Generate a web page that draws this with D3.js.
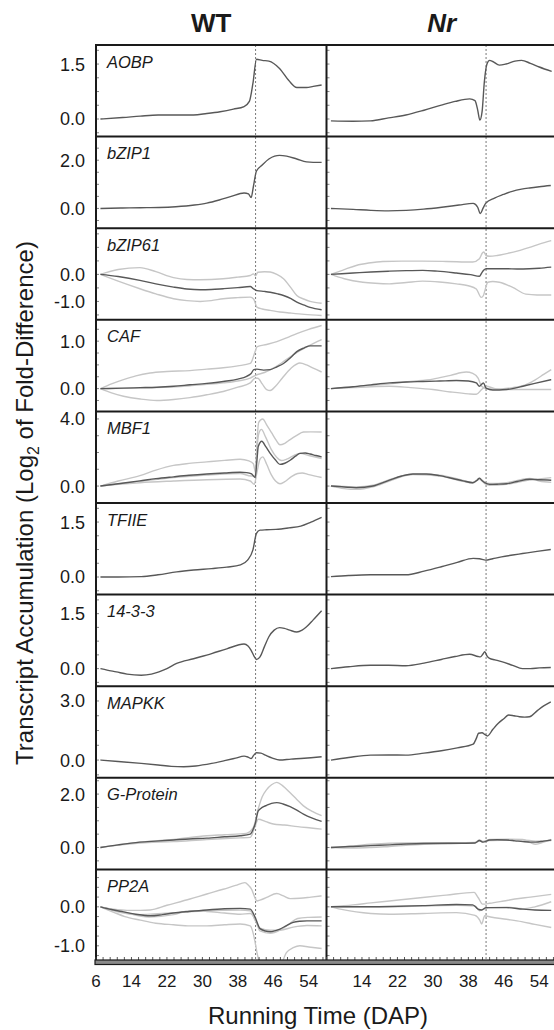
<!DOCTYPE html>
<html>
<meta charset="utf-8">
<head>
    <script src="https://d3js.org/d3.v7.min.js"></script>
    <style>
        body { margin: 0; background: #fff; }
        text { font-family: "Liberation Sans", Arial, sans-serif; fill: #1a1a1a; }
    </style>
</head>
<body>
    <div id="my_dataviz"></div>

<script>
    // panels: one row per gene, WT on the left, Nr on the right
    const genes = ["AOBP", "bZIP1", "bZIP61", "CAF", "MBF1", "TFIIE", "14-3-3", "MAPKK", "G-Protein", "PP2A"];
    const columns = ["WT", "Nr"];
    const xDomain = [6, 58];
    const xTicks = [6, 14, 22, 30, 38, 46, 54];
    const treatDay = 42;
    const yDomains = [[-0.48, 2.02], [-0.82, 2.98], [-1.68, 1.71], [-0.48, 1.45], [-1.01, 4.45],
                      [-0.48, 2.02], [-0.48, 2.02], [-0.9, 3.75], [-0.82, 2.61], [-1.39, 0.96]];
    const yTickValues = [[0, 1.5], [0, 2], [-1, 0], [0, 1], [0, 4], [0, 1.5], [0, 1.5], [0, 3], [0, 2], [-1, 0]];
    const yMinorStep = [0.375, 0.5, 0.5, 0.25, 1, 0.375, 0.375, 0.75, 0.5, 0.25];

    // each panel: [dark series, light series...], points are [DAP, log2 fold-difference]
    const aobpWT = [
        [[7,0],[12,0.04],[16,0.08],[20,0.11],[24,0.11],[28,0.11],[31,0.15],[34,0.2],[37,0.27],[39.4,0.34],[40.6,0.48],[41.4,0.97],[42.2,1.63],[43.5,1.6],[45,1.58],[47.4,1.38],[49.5,1.05],[51.3,0.86],[53.5,0.86],[55,0.89],[56.9,0.93]]
    ];
    const aobpNr = [
        [[7,-0.05],[12,-0.06],[15.9,-0.05],[20,0.03],[23.9,0.11],[28,0.24],[31.9,0.38],[35,0.48],[38.3,0.55],[39.5,0.5],[40.1,0.25],[40.6,-0.03],[41.1,0.2],[41.6,1.0],[42.2,1.5],[42.8,1.6],[43.5,1.57],[45,1.47],[46.5,1.5],[48.5,1.58],[50,1.6],[52,1.52],[54,1.42],[56.8,1.3]]
    ];
    const bzip1WT = [
        [[7,0],[12,0.02],[16,0.03],[20.2,0.04],[24,0.07],[28.2,0.14],[31,0.22],[33.8,0.35],[36.5,0.5],[39.4,0.64],[40.4,0.6],[41,0.45],[41.5,0.9],[42.2,1.55],[43.5,1.8],[45,2.05],[46.3,2.17],[47.4,2.2],[49,2.17],[51.3,2.05],[53.5,1.93],[55,1.91],[56.9,1.91]]
    ];
    const bzip1Nr = [
        [[7,0],[12,-0.04],[16,-0.08],[19.9,-0.1],[24,-0.08],[27.9,-0.03],[32,0.05],[35.9,0.14],[39.1,0.21],[40.1,0.05],[40.7,-0.21],[41.3,0],[41.9,0.21],[43.9,0.43],[45.9,0.58],[47.9,0.71],[50,0.8],[51.8,0.85],[54,0.9],[56.6,0.95]]
    ];
    const bzip61WT = [
        [[7,0],[11,-0.08],[15.9,-0.22],[19.5,-0.35],[23.5,-0.47],[26.5,-0.54],[29.5,-0.57],[32,-0.56],[34.7,-0.53],[38,-0.49],[40.8,-0.45],[41.5,-0.53],[42.3,-0.6],[44,-0.63],[45.3,-0.66],[47,-0.72],[48.3,-0.78],[50,-0.9],[51.3,-1.03],[53,-1.14],[54.3,-1.22],[56.9,-1.31]],
        [[7,0],[11,0.18],[15.9,0.25],[19.5,0.1],[23.5,-0.12],[26.5,-0.19],[29.5,-0.2],[34.7,-0.16],[38,-0.1],[40.8,-0.04],[41.5,0.02],[42,-0.05],[42.5,0.08],[44,0.1],[45.3,0.09],[46.8,0],[48.3,-0.16],[50,-0.5],[51.3,-0.78],[53,-0.92],[54.3,-1],[56.9,-1.07]],
        [[7,0],[11,-0.25],[15.9,-0.53],[19.5,-0.72],[23.5,-0.9],[26.5,-0.97],[29.5,-1],[32,-0.97],[34.7,-0.9],[38,-0.86],[40.8,-0.84],[41.6,-0.92],[42.3,-1.21],[43.5,-1.28],[45.3,-1.33],[47.5,-1.39],[49.8,-1.43],[53,-1.48],[56.9,-1.52]]
    ];
    const bzip61Nr = [
        [[7,0],[12,0.05],[16,0.09],[20.2,0.12],[24,0.14],[27.7,0.15],[31,0.12],[35.3,0.05],[38.5,-0.01],[40.5,-0.07],[41,0.05],[41.5,0.16],[42,0.21],[44,0.21],[46.6,0.21],[49,0.2],[51.8,0.21],[54,0.23],[56.7,0.27]],
        [[7,0],[10,0.18],[12.7,0.33],[15.5,0.42],[18.7,0.48],[23,0.49],[27.7,0.49],[33,0.48],[39,0.46],[40.5,0.58],[41.2,0.8],[41.5,0.83],[42,0.7],[42.8,0.67],[44.5,0.7],[46.6,0.77],[49,0.86],[51.8,1],[54,1.12],[56.7,1.25]],
        [[7,0],[10,-0.16],[14.2,-0.29],[17,-0.33],[20.2,-0.35],[24,-0.3],[27.7,-0.25],[31.5,-0.28],[35.3,-0.35],[38,-0.42],[39.8,-0.54],[40.9,-0.85],[41.4,-0.78],[41.7,-0.62],[42.4,-0.29],[43.5,-0.26],[45,-0.29],[48,-0.48],[51,-0.73],[53.5,-0.76],[56.7,-0.76]]
    ];
    const cafWT = [
        [[7,0],[12,0.01],[16,0.02],[19.7,0.03],[23.5,0.05],[27.2,0.08],[31,0.11],[34.7,0.15],[38,0.2],[40,0.26],[41,0.32],[41.6,0.4],[42.3,0.41],[43.8,0.39],[45.3,0.4],[46.8,0.46],[48.3,0.53],[50,0.66],[51.3,0.78],[53,0.86],[54.3,0.9],[56.9,0.9]],
        [[7,0],[9.5,0.1],[12.2,0.19],[15,0.27],[18.2,0.33],[22,0.36],[27.2,0.38],[31,0.41],[34.7,0.44],[38,0.48],[40.8,0.53],[41.9,0.78],[42.3,0.88],[44.5,0.93],[46.8,0.99],[49,1.07],[51.3,1.16],[54,1.25],[56.9,1.33]],
        [[7,0],[9.5,-0.09],[12.2,-0.16],[16,-0.22],[19.7,-0.25],[23.5,-0.23],[27.2,-0.19],[31,-0.13],[34.7,-0.06],[38,0.03],[40.8,0.12],[41.9,0.22],[42.5,0.22],[43.5,0.1],[44.5,-0.02],[45.3,-0.04],[46.5,0.05],[48,0.22],[50,0.43],[52,0.54],[53.5,0.5],[55,0.43],[56.9,0.35]],
        [[7,0],[19.7,0.02],[27.2,0.06],[34.7,0.12],[38,0.16],[40.8,0.22],[42,0.28],[44,0.34],[46,0.43],[48,0.55],[50,0.68],[52,0.8],[54,0.9],[56.9,1.03]]
    ];
    const cafNr = [
        [[7,0],[12,0.04],[16,0.08],[20.2,0.12],[24,0.14],[27.7,0.15],[31.5,0.16],[35.3,0.17],[38,0.16],[39.8,0.12],[40.5,0.05],[41.1,0.1],[41.4,0.12],[42,0.01],[43.5,-0.03],[45,-0.03],[46.6,-0.02],[48.5,0.01],[50.3,0.05],[53,0.11],[56.7,0.19]],
        [[7,0],[12,0.04],[16,0.07],[20.2,0.1],[25,0.15],[30,0.2],[34,0.28],[37.5,0.35],[39,0.32],[40.2,0.22],[41,0.05],[42,0],[44,-0.01],[47,0.01],[50.3,0.06],[53,0.18],[55,0.3],[56.7,0.4]],
        [[7,0],[12,0.02],[16,0.04],[20.2,0.05],[25,0.02],[30,-0.02],[34,-0.07],[38,-0.11],[39.8,-0.12],[41,-0.02],[42,0.05],[44,0],[46.6,-0.02],[50,-0.02],[56.7,-0.02]]
    ];
    const mbf1WT = [
        [[7,0],[11,0.14],[15.9,0.31],[19.5,0.44],[23.5,0.55],[27,0.64],[31,0.72],[35,0.78],[38.5,0.82],[40,0.8],[41.1,0.72],[41.9,0.51],[42.3,1.5],[42.6,2.36],[43.4,2.67],[44.3,2.35],[45.3,1.95],[46.5,1.55],[47.5,1.29],[48.6,1.36],[49.8,1.54],[51,1.78],[52,1.95],[53.2,1.97],[54.3,1.91],[55.6,1.82],[56.9,1.74]],
        [[7,0],[11,0.3],[15.9,0.62],[19.5,0.95],[23.5,1.23],[27,1.35],[31,1.44],[35,1.53],[38.5,1.6],[40.5,1.5],[41.5,1.33],[42,0.8],[42.3,2.5],[42.7,3.8],[43.6,4],[44.6,3.6],[45.6,3.18],[46.6,2.75],[47.5,2.46],[48.6,2.55],[49.8,2.77],[51.2,3],[52.8,3.22],[54.5,3.23],[56.9,3.22]],
        [[7,0],[15.9,0.28],[23.5,0.5],[31,0.66],[38.5,0.75],[41,0.6],[41.9,0.6],[42.3,2.2],[42.8,3.2],[43.3,3.38],[44.3,2.9],[45.5,2.2],[46.8,1.7],[47.8,1.52],[49,1.6],[50.5,1.8],[52,1.95],[54,1.82],[56.9,1.64]],
        [[7,0],[11,0.1],[15.9,0.2],[23.5,0.3],[31,0.38],[38.5,0.42],[40.8,0.3],[41.7,0.1],[42.3,0.8],[43,1.6],[43.6,1.74],[44.5,1.3],[45.5,0.7],[46.5,0.3],[47.5,0.14],[48.5,0.25],[50,0.55],[51.5,0.75],[52.5,0.78],[54,0.68],[56.9,0.51]]
    ];
    const mbf1Nr = [
        [[7,0],[10,-0.06],[12.7,-0.1],[16.5,0],[20.2,0.35],[23,0.6],[25.5,0.72],[28.5,0.72],[31.5,0.62],[34.5,0.45],[36.8,0.31],[39,0.2],[40,0.35],[40.5,0.47],[41,0.35],[41.7,0.2],[42.8,0.1],[44.5,0.11],[46.6,0.14],[49,0.27],[51.8,0.41],[54,0.38],[56.7,0.35]],
        [[7,0],[10,-0.15],[12.7,-0.2],[16.5,-0.05],[20.2,0.3],[25.5,0.68],[31.5,0.6],[36.8,0.28],[39,0.18],[40.5,0.4],[41.7,0.15],[42.8,0.05],[46.6,0.1],[51.8,0.36],[54,0.42],[56.7,0.5]],
        [[7,0],[10,-0.02],[12.7,-0.05],[16.5,0.05],[20.2,0.38],[25.5,0.7],[31.5,0.65],[36.8,0.34],[39,0.22],[40.5,0.45],[41.7,0.22],[42.8,0.15],[46.6,0.2],[51.8,0.45],[54,0.3],[56.7,0.22]]
    ];
    const tfiieWT = [
        [[7,0],[11,0],[16.2,0.01],[20,0.06],[24.2,0.14],[28,0.19],[32.1,0.23],[35.5,0.27],[38.6,0.33],[40.2,0.46],[41.4,0.74],[42.2,1.19],[43,1.28],[44.5,1.29],[46.6,1.3],[49.5,1.34],[52.2,1.39],[54.5,1.5],[56.9,1.63]]
    ];
    const tfiieNr = [
        [[7,0.01],[11,0.04],[15.9,0.06],[20,0.06],[23.9,0.06],[28,0.16],[31.9,0.28],[35.5,0.4],[39.1,0.51],[40.5,0.5],[41.9,0.46],[43.5,0.5],[45.5,0.55],[48,0.6],[50.2,0.64],[53.5,0.7],[56.6,0.75]]
    ];
    const p1433WT = [
        [[7,0],[8.5,-0.04],[10.6,-0.09],[13,-0.15],[16.2,-0.18],[18.5,-0.15],[20.2,-0.09],[22,0],[24.2,0.14],[28,0.27],[32.1,0.41],[35.5,0.54],[39.4,0.67],[40.3,0.62],[41,0.5],[41.7,0.33],[42.2,0.25],[43,0.32],[44,0.6],[45,0.87],[46.2,1.05],[47.4,1.12],[48.5,1.1],[49.7,1.05],[51.3,1],[52.5,1.05],[53.5,1.14],[55,1.33],[56.9,1.58]]
    ];
    const p1433Nr = [
        [[7,0],[11,0.05],[15.9,0.09],[20,0.09],[23.9,0.08],[28,0.15],[31.9,0.25],[35,0.33],[38.3,0.39],[40.2,0.33],[40.7,0.32],[41.3,0.4],[41.7,0.46],[42.2,0.35],[42.8,0.28],[44,0.24],[45.5,0.19],[48,0.09],[50.2,0],[52,0],[54,0.02],[56.6,0.03]]
    ];
    const mapkkWT = [
        [[7,0],[11,-0.07],[16.2,-0.17],[20,-0.25],[23,-0.32],[25.8,-0.34],[28.5,-0.3],[32.1,-0.17],[35,-0.03],[37.5,0.1],[39.4,0.2],[40.3,0.15],[41,0.08],[41.6,0.25],[42.2,0.37],[43.2,0.35],[44.2,0.25],[45.8,0.1],[47.4,0],[50,0.05],[52.2,0.08],[54.5,0.12],[56.9,0.17]]
    ];
    const mapkkNr = [
        [[7,0],[11,0.13],[15.9,0.25],[20,0.26],[23.9,0.25],[28,0.35],[31.9,0.47],[35.5,0.62],[39.1,0.81],[39.8,1.1],[40.3,1.36],[41.1,1.39],[41.7,1.3],[42.3,1.22],[43.5,1.55],[44.7,1.86],[46,2.1],[47.1,2.29],[48.3,2.25],[49.5,2.2],[50.7,2.18],[51.8,2.2],[53.5,2.5],[55,2.75],[56.6,2.96]]
    ];
    const gprotWT = [
        [[7,0],[11,0.1],[15.9,0.2],[19.5,0.24],[23.5,0.28],[27,0.32],[31,0.35],[35,0.4],[38.5,0.44],[40.8,0.5],[41.5,0.7],[41.9,0.88],[42.6,1.37],[43.5,1.5],[44.5,1.58],[45.6,1.65],[46.8,1.68],[48.2,1.63],[49.8,1.53],[51.3,1.4],[52.8,1.25],[54.8,1.1],[56.9,0.98]],
        [[7,0],[11,0.1],[15.9,0.2],[23.5,0.3],[31,0.44],[35,0.48],[39.9,0.53],[41.5,0.75],[42.6,1.45],[43.5,1.9],[44.5,2.17],[45.6,2.35],[46.8,2.44],[48.2,2.3],[49.8,2.05],[51.3,1.8],[52.8,1.56],[54.8,1.35],[56.9,1.19]],
        [[7,0],[11,0.09],[15.9,0.17],[23.5,0.22],[31,0.3],[38.5,0.36],[40.8,0.38],[41.9,0.8],[42.6,1.06],[44.3,0.97],[46,0.88],[48.5,0.84],[51.5,0.78],[54.5,0.73],[56.9,0.69]]
    ];
    const gprotNr = [
        [[7,0],[12,0.04],[16,0.07],[20.2,0.1],[24,0.13],[28,0.15],[35.3,0.16],[39.5,0.17],[40.5,0.26],[41.3,0.2],[42.8,0.28],[44.5,0.29],[46.6,0.28],[48.5,0.25],[50.3,0.22],[52,0.2],[53.2,0.2],[55,0.24],[56.7,0.28]],
        [[7,0],[12,-0.02],[16,0],[20.2,0.04],[28,0.12],[35.3,0.15],[39.5,0.18],[40.5,0.24],[41.3,0.22],[42.8,0.3],[46.6,0.31],[50.3,0.3],[52,0.18],[53.2,0.12],[55,0.2],[56.7,0.3]],
        [[7,0],[12,0.06],[16,0.12],[20.2,0.16],[28,0.18],[35.3,0.18],[39.5,0.19],[40.5,0.28],[41.3,0.23],[42.8,0.26],[46.6,0.27],[50.3,0.28],[53.2,0.24],[56.7,0.26]]
    ];
    const pp2aWT = [
        [[7,0],[9.5,-0.07],[12.2,-0.13],[15,-0.19],[18.2,-0.23],[21,-0.2],[23.5,-0.16],[27,-0.12],[31,-0.08],[35,-0.05],[38.5,-0.04],[40.8,-0.06],[41.9,-0.27],[43,-0.56],[44.2,-0.62],[45.3,-0.64],[46.5,-0.61],[47.5,-0.57],[49,-0.48],[50.5,-0.4],[52,-0.37],[53.6,-0.36],[56.9,-0.36]],
        [[7,0],[10,-0.06],[13,-0.09],[16,-0.09],[18.2,-0.08],[22,0.04],[27.2,0.2],[31,0.33],[34.7,0.45],[37.5,0.55],[39.6,0.62],[40.4,0.55],[41.1,0.45],[41.8,0.25],[42.3,0.15],[43,0.17],[44.5,0.24],[46.8,0.34],[48.3,0.28],[49.8,0.21],[52,0.22],[54.5,0.25],[56.9,0.28]],
        [[7,0],[10,-0.14],[12.5,-0.25],[16,-0.34],[19.5,-0.42],[23.5,-0.46],[27.2,-0.49],[31,-0.49],[35,-0.46],[38.5,-0.44],[40.8,-0.49],[41.9,-0.91],[42.3,-1.17],[43,-1.45],[44.5,-1.62],[46,-1.68],[47.5,-1.55],[49,-1.17],[50.5,-1.05],[52,-1],[54,-1.03],[56.9,-1.07]],
        [[7,0],[12,-0.13],[18,-0.26],[23.5,-0.2],[27.2,-0.1],[31,-0.12],[35,-0.16],[38.5,-0.19],[40.8,-0.17],[41.9,-0.32],[43,-0.62],[45.3,-0.68],[47.5,-0.6],[49.5,-0.45],[51.5,-0.3],[54,-0.27],[56.9,-0.26]],
        [[7,0],[15,-0.2],[23.5,-0.15],[31,-0.1],[38.5,-0.08],[40.8,-0.1],[41.9,-0.35],[43,-0.55],[45.3,-0.6],[47.5,-0.6],[50.5,-0.52],[53.6,-0.48],[56.9,-0.49]]
    ];
    const pp2aNr = [
        [[7,0],[12,0],[20.2,0.01],[27.7,0.03],[35.3,0.06],[39,0.05],[40.2,-0.06],[41,-0.08],[42,-0.02],[44,-0.02],[46.6,-0.02],[50.3,-0.06],[53,-0.08],[56.7,-0.09]],
        [[7,0],[12,0.05],[16,0.1],[20.2,0.15],[27.7,0.24],[33,0.3],[39.3,0.37],[40.2,0.24],[41.2,0.07],[42.8,0.09],[46,0.15],[48.5,0.2],[52,0.25],[56.7,0.32]],
        [[7,0],[10,-0.08],[12.7,-0.13],[16,-0.17],[20.2,-0.19],[27.7,-0.17],[35.3,-0.15],[39.5,-0.22],[40.6,-0.35],[41,-0.44],[41.7,-0.23],[43,-0.26],[46.6,-0.32],[50,-0.38],[53,-0.45],[56.7,-0.53]],
        [[7,0],[20.2,0],[35.3,0.04],[39.5,0.02],[40.5,-0.1],[41.7,-0.05],[43,-0.02],[46.6,-0.01],[50.3,-0.05],[53,0],[56.7,0.13]]
    ];

    const table = [
        [aobpWT, aobpNr], [bzip1WT, bzip1Nr], [bzip61WT, bzip61Nr], [cafWT, cafNr], [mbf1WT, mbf1Nr],
        [tfiieWT, tfiieNr], [p1433WT, p1433Nr], [mapkkWT, mapkkNr], [gprotWT, gprotNr], [pp2aWT, pp2aNr]
    ];

    // layout
    const width = 554, height = 1030;
    const marginLeft = 96, marginTop = 45, rowH = 91.6, panelW = 230.5;
    const plotBottom = marginTop + rowH * genes.length;

    const svg = d3.select("#my_dataviz")
        .append("svg")
            .attr("width", width)
            .attr("height", height);

    svg.append("rect").attr("width", width).attr("height", height).attr("fill", "#fff");

    const xs = columns.map((c, j) => d3.scaleLinear()
        .domain(xDomain)
        .range([marginLeft + j * panelW, marginLeft + (j + 1) * panelW]));

    // treatment day marker
    xs.forEach(x => {
        svg.append("line")
            .attr("x1", x(treatDay)).attr("x2", x(treatDay))
            .attr("y1", marginTop).attr("y2", plotBottom)
            .attr("stroke", "#6a6a6a")
            .attr("stroke-width", 0.9)
            .attr("stroke-dasharray", "2,2");
    });

    genes.forEach((gene, i) => {
        const y0 = marginTop + i * rowH;
        const y = d3.scaleLinear().domain(yDomains[i]).range([y0 + rowH, y0]);
        const step = yMinorStep[i];
        const minor = d3.range(Math.ceil(yDomains[i][0] / step), Math.floor(yDomains[i][1] / step) + 1)
            .map(k => k * step);

        columns.forEach((col, j) => {
            const x = xs[j];
            const clipId = `clip-${i}-${j}`;
            svg.append("clipPath").attr("id", clipId)
                .append("rect")
                    .attr("x", x.range()[0]).attr("y", y0)
                    .attr("width", panelW).attr("height", rowH);

            const line = d3.line()
                .x(d => x(d[0]))
                .y(d => y(d[1]))
                .curve(d3.curveMonotoneX);

            const g = svg.append("g").attr("clip-path", `url(#${clipId})`);
            const series = table[i][j];

            g.selectAll("path.light")
                .data(series.slice(1))
                .join("path")
                    .attr("class", "light")
                    .attr("d", line)
                    .attr("fill", "none")
                    .attr("stroke", "#c6c6c6")
                    .attr("stroke-width", 1.4);

            g.append("path")
                .datum(series[0])
                .attr("d", line)
                .attr("fill", "none")
                .attr("stroke", "#585858")
                .attr("stroke-width", 1.4);

            // small inward ticks on the left edge
            svg.selectAll(null)
                .data(minor)
                .join("line")
                    .attr("x1", x.range()[0]).attr("x2", x.range()[0] + 3)
                    .attr("y1", d => y(d)).attr("y2", d => y(d))
                    .attr("stroke", "#666")
                    .attr("stroke-width", 0.8);
        });

        // y tick labels
        svg.selectAll(null)
            .data(yTickValues[i])
            .join("text")
                .attr("x", 85)
                .attr("y", d => y(d))
                .attr("dy", "0.36em")
                .attr("text-anchor", "end")
                .attr("font-size", 18)
                .text(d => d.toFixed(1));

        // gene name
        svg.append("text")
            .attr("x", marginLeft + 11)
            .attr("y", y0 + 22.5)
            .attr("font-size", 16.5)
            .attr("font-style", "italic")
            .text(gene);
    });

    // frame
    d3.range(genes.length).forEach(i => {
        svg.append("line")
            .attr("x1", marginLeft - 1).attr("x2", width + 5)
            .attr("y1", marginTop + i * rowH).attr("y2", marginTop + i * rowH)
            .attr("stroke", "#1a1a1a")
            .attr("stroke-width", 2);
    });
    xs.forEach(x => {
        svg.append("line")
            .attr("x1", x.range()[0]).attr("x2", x.range()[0])
            .attr("y1", marginTop - 1).attr("y2", plotBottom + 3)
            .attr("stroke", "#1a1a1a")
            .attr("stroke-width", 2);
    });

    // bottom axis: thick base with small upward ticks
    xs.forEach(x => {
        svg.selectAll(null)
            .data(d3.range(xDomain[0], xDomain[1] + 0.01, 1.6))
            .join("line")
                .attr("x1", d => x(d)).attr("x2", d => x(d))
                .attr("y1", plotBottom - 4).attr("y2", plotBottom)
                .attr("stroke", "#444")
                .attr("stroke-width", 0.9);
    });
    svg.append("rect")
        .attr("x", marginLeft - 1).attr("y", plotBottom - 1)
        .attr("width", width - marginLeft + 5).attr("height", 4.5)
        .attr("fill", "#8a8a8a")
        .attr("stroke", "#1a1a1a")
        .attr("stroke-width", 1.2);

    // x tick labels (Nr skips the 6 that would sit on the divider)
    xs.forEach((x, j) => {
        svg.selectAll(null)
            .data(j === 0 ? xTicks : xTicks.slice(1))
            .join("text")
                .attr("x", d => x(d))
                .attr("y", 987)
                .attr("text-anchor", "middle")
                .attr("font-size", 17)
                .text(d => d);
    });

    // column titles
    svg.append("text")
        .attr("x", marginLeft + panelW / 2).attr("y", 32)
        .attr("text-anchor", "middle")
        .attr("font-size", 26).attr("font-weight", "bold")
        .text("WT");
    svg.append("text")
        .attr("x", marginLeft + panelW * 1.5).attr("y", 32)
        .attr("text-anchor", "middle")
        .attr("font-size", 26).attr("font-weight", "bold").attr("font-style", "italic")
        .text("Nr");

    // axis titles
    svg.append("text")
        .attr("x", 318).attr("y", 1024)
        .attr("text-anchor", "middle")
        .attr("font-size", 24)
        .text("Running Time (DAP)");

    const yTitle = svg.append("text")
        .attr("transform", `translate(33, ${(marginTop + plotBottom) / 2}) rotate(-90)`)
        .attr("text-anchor", "middle")
        .attr("font-size", 24);
    yTitle.append("tspan").text("Transcript Accumulation (Log");
    yTitle.append("tspan").attr("dy", 6).attr("font-size", 16).text("2");
    yTitle.append("tspan").attr("dy", -6).text(" of Fold-Difference)");
</script>
</body>
</html>
